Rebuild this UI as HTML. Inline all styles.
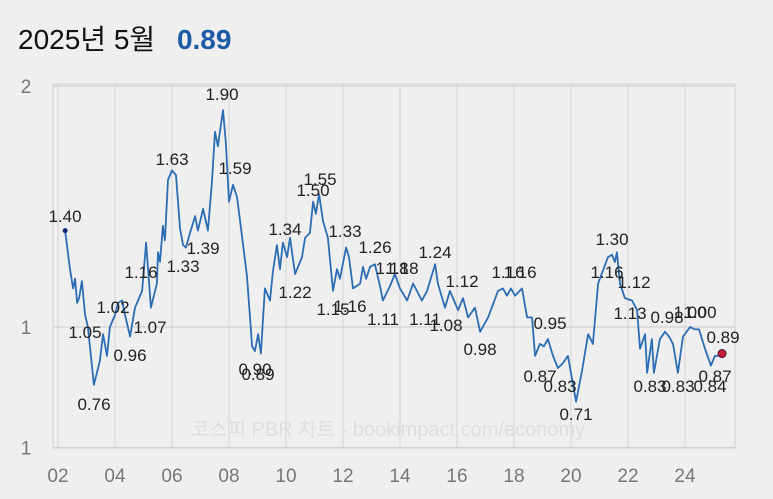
<!DOCTYPE html>
<html><head><meta charset="utf-8">
<style>
html,body{margin:0;padding:0;background:#efefef;}
body{width:773px;height:499px;overflow:hidden;font-family:"Liberation Sans","Noto Sans CJK KR",sans-serif;}
#title{position:absolute;left:18px;top:18px;font-size:28px;color:#111;white-space:nowrap;}
#title b{color:#1c5aa6;margin-left:14px;}
svg{position:absolute;left:0;top:0;}
</style></head>
<body>
<div id="title">2025년 5월 <b>0.89</b></div>
<svg id="chart" width="773" height="499"></svg>
<script>
const years=[2002.25,2002.42,2002.53,2002.60,2002.67,2002.74,2002.84,2002.95,2003.05,2003.26,2003.47,2003.58,2003.72,2003.82,2004.00,2004.11,2004.25,2004.35,2004.53,2004.70,2004.95,2005.09,2005.26,2005.47,2005.51,2005.58,2005.68,2005.75,2005.86,2006.00,2006.14,2006.28,2006.39,2006.49,2006.63,2006.81,2006.91,2007.09,2007.26,2007.40,2007.51,2007.61,2007.79,2007.89,2008.00,2008.14,2008.28,2008.42,2008.63,2008.81,2008.91,2009.02,2009.12,2009.26,2009.44,2009.54,2009.68,2009.79,2009.89,2010.04,2010.14,2010.32,2010.56,2010.67,2010.84,2010.95,2011.05,2011.16,2011.30,2011.47,2011.65,2011.79,2011.89,2012.11,2012.21,2012.35,2012.60,2012.70,2012.81,2012.95,2013.12,2013.30,2013.40,2013.65,2013.82,2014.00,2014.25,2014.46,2014.77,2014.95,2015.23,2015.33,2015.58,2015.75,2016.04,2016.21,2016.39,2016.63,2016.81,2017.09,2017.44,2017.61,2017.75,2017.89,2018.04,2018.28,2018.46,2018.63,2018.74,2018.91,2019.05,2019.19,2019.37,2019.54,2019.72,2019.89,2020.18,2020.39,2020.60,2020.77,2020.95,2021.30,2021.44,2021.54,2021.61,2021.72,2021.89,2022.14,2022.32,2022.42,2022.60,2022.67,2022.84,2022.91,2023.12,2023.30,2023.44,2023.58,2023.75,2023.93,2024.18,2024.35,2024.49,2024.70,2024.91,2025.05,2025.16,2025.30];
const pbr=[1.40,1.24,1.16,1.20,1.10,1.12,1.19,1.05,1.00,0.76,0.86,0.97,0.88,1.00,1.05,1.10,1.11,1.05,0.96,1.08,1.15,1.35,1.08,1.18,1.31,1.27,1.42,1.36,1.61,1.65,1.63,1.41,1.34,1.33,1.39,1.46,1.40,1.49,1.40,1.60,1.81,1.75,1.90,1.76,1.52,1.59,1.54,1.41,1.21,0.92,0.90,0.97,0.89,1.16,1.11,1.23,1.34,1.24,1.35,1.29,1.37,1.22,1.29,1.37,1.39,1.52,1.47,1.55,1.44,1.37,1.15,1.24,1.20,1.33,1.29,1.16,1.18,1.25,1.20,1.25,1.26,1.17,1.11,1.17,1.22,1.16,1.11,1.18,1.11,1.15,1.26,1.18,1.08,1.15,1.07,1.12,1.04,1.08,0.98,1.04,1.15,1.16,1.13,1.16,1.13,1.16,1.04,1.04,0.88,0.93,0.92,0.95,0.88,0.83,0.85,0.88,0.69,0.82,0.97,0.93,1.18,1.29,1.30,1.27,1.31,1.18,1.12,1.11,1.07,0.91,0.97,0.81,0.95,0.81,0.95,0.98,0.96,0.93,0.81,0.96,1.00,0.99,0.99,0.91,0.84,0.88,0.88,0.89];
const xTicks=["02","04","06","08","10","12","14","16","18","20","22","24"];
const xTickYears=[2002,2004,2006,2008,2010,2012,2014,2016,2018,2020,2022,2024];
const yTickVals=[2,1,0.5];
const yTickLabels=["2","1","1"];
const lblText=["1.40","1.63","1.90","1.59","1.55","1.50","1.34","1.33","1.39","1.33","1.16","1.02","1.05","1.07","0.96","0.76","0.90","0.89","1.22","1.26","1.15","1.16","1.11","1.18","1.18","1.11","1.24","1.12","1.08","0.98","1.16","1.16","0.95","0.87","0.83","0.71","1.30","1.16","1.12","1.13","0.83","0.98","0.83","1.00","1.00","0.89","0.87","0.84"];
const lblX=[65,172,222,235,320,313,285,345,203,183,141,113,85,150,130,94,255,258,295,375,333,350,383,392,402,425,435,462,446,480,508,520,550,540,560,576,612,607,634,630,650,667,678,690,700,723,715,710];
const lblY=[222,165,100,174,185,196,235,237,254,272,278,313,338,333,361,410,375,380,298,253,315,312,325,274,274,325,258,287,331,355,278,278,329,382,392,420,245,278,288,319,392,323,392,318,318,343,382,392];

const NS="http://www.w3.org/2000/svg";
const svg=document.getElementById('chart');
const X0=2002, PXY=28.5, XL=58;
const xs=y=>XL+(y-X0)*PXY;
const ys=v=>327-(v-1)*241;
function mk(t,a){const e=document.createElementNS(NS,t);for(const k in a)e.setAttribute(k,a[k]);svg.appendChild(e);return e;}

let r=mk('rect',{x:53,y:84,width:682,height:364,fill:'none',stroke:'#d6d6d6','stroke-width':1.2});


xTickYears.forEach((yr,i)=>{
  const x=xs(yr);
  const g=mk('line',{x1:x,x2:x,y1:84,y2:448,stroke:'#d8d8d8','stroke-width':1.2});
  
  
  const t=mk('text',{x:x,y:482,'text-anchor':'middle','font-size':19,fill:'#777'});
  t.textContent=xTicks[i];
  
  
});
yTickVals.forEach((v,i)=>{
  const y=ys(v);
  const g=mk('line',{x1:53,x2:735,y1:y,y2:y,stroke:'#d2d2d2','stroke-width':1.2});
  
  
  const t=mk('text',{x:26,y:y+7,'text-anchor':'middle','font-size':19,fill:'#777'});
  t.textContent=yTickLabels[i];
  
  
});
const wm=mk('text',{x:388,y:436,'text-anchor':'middle','font-size':20,fill:'#dedede'});
wm.textContent='코스피 PBR 차트 - bookimpact.com/economy';



const pts=years.map((y,i)=>xs(y).toFixed(1)+','+ys(pbr[i]).toFixed(1)).join(' ');
const line=mk('polyline',{points:pts,fill:'none',stroke:'#2d6db3','stroke-width':1.8,'stroke-linejoin':'round'});



const d0=mk('circle',{cx:xs(years[0]),cy:ys(pbr[0]),r:2.5,fill:'#10287a'});


const n=years.length-1;
const d1=mk('circle',{cx:xs(years[n]),cy:ys(pbr[n]),r:4,fill:'#c41e3a',stroke:'#4a1030','stroke-width':1});



lblText.forEach((s,i)=>{
  const t=mk('text',{x:lblX[i],y:lblY[i],'text-anchor':'middle','font-size':17,fill:'#222'});
  t.textContent=s;
  
  
});
</script>
</body></html>
